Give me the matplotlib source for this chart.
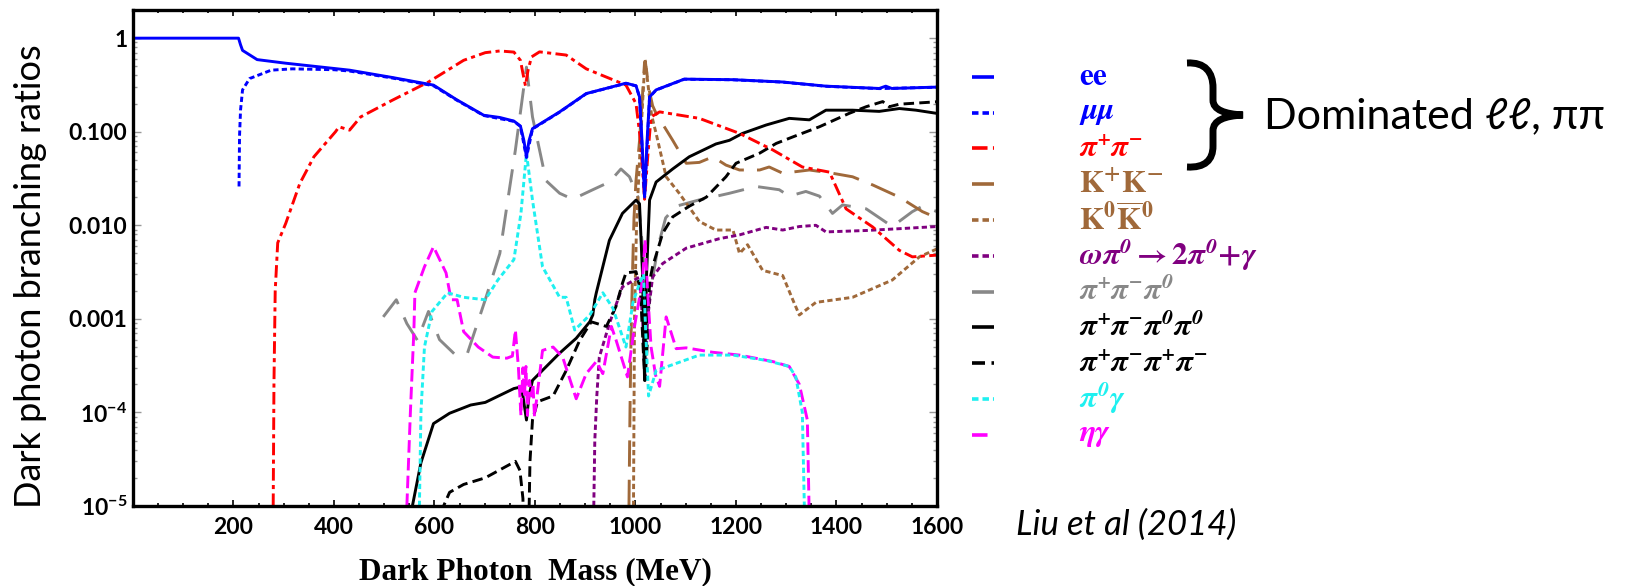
import matplotlib
matplotlib.use("Agg")
import matplotlib.pyplot as plt
from matplotlib.lines import Line2D
from matplotlib.path import Path
from matplotlib.patches import PathPatch
from matplotlib.ticker import FixedLocator, FixedFormatter, LogLocator, NullFormatter, MultipleLocator

plt.rcParams['mathtext.fontset'] = 'custom'
plt.rcParams['mathtext.rm'] = 'Lato:bold'
plt.rcParams['mathtext.bf'] = 'Lato:bold'
plt.rcParams['mathtext.it'] = 'Lato:bold:italic'

# ---------------- data (mass in MeV, branching ratio) ----------------
ee_m = [0, 210, 214, 218, 247, 304, 431, 516, 598, 644, 698, 730, 758, 771, 778, 783, 788, 795, 849, 902,
        981, 1001, 1008, 1013, 1018, 1023, 1028, 1041, 1097, 1194, 1293, 1379, 1485, 1498, 1510, 1600]
ee_br = [1.0, 1.0, 0.85, 0.74, 0.59, 0.54, 0.455, 0.38, 0.315, 0.22, 0.15, 0.142, 0.13, 0.115, 0.08, 0.054,
         0.08, 0.108, 0.163, 0.256, 0.33, 0.31, 0.236, 0.08, 0.02, 0.08, 0.236, 0.28, 0.365, 0.36, 0.34,
         0.307, 0.29, 0.307, 0.29, 0.30]

mumu_m = [211, 212, 214, 218, 232, 275, 317, 400, 431, 516, 598, 644, 698, 758, 771, 783, 795, 849, 902,
          981, 1001, 1008, 1018, 1028, 1041, 1097, 1194, 1293, 1379, 1485, 1600]
mumu_br = [0.026, 0.09, 0.17, 0.28, 0.37, 0.455, 0.47, 0.46, 0.445, 0.375, 0.31, 0.218, 0.149, 0.129, 0.114,
           0.053, 0.107, 0.162, 0.255, 0.329, 0.309, 0.235, 0.02, 0.235, 0.279, 0.364, 0.359, 0.339, 0.306,
           0.289, 0.299]

pipi_m = [279, 280.5, 283, 288, 304, 332, 360, 403, 410, 431, 453, 516, 588, 658, 701, 730, 758, 771, 776,
          781, 786, 793, 809, 862, 902, 981, 1001, 1010, 1018, 1025, 1031, 1048, 1127, 1207, 1273, 1332, 1386,
          1419, 1472, 1525, 1551, 1600]
pipi_br = [1e-5, 2e-4, 0.002, 0.0065, 0.0105, 0.028, 0.054, 0.10, 0.113, 0.104, 0.144, 0.217, 0.34, 0.58,
           0.70, 0.73, 0.71, 0.58, 0.42, 0.31, 0.45, 0.63, 0.714, 0.66, 0.47, 0.315, 0.20, 0.08, 0.019, 0.06,
           0.144, 0.163, 0.139, 0.096, 0.064, 0.042, 0.037, 0.015, 0.0096, 0.0054, 0.0046, 0.0048]

kk_m = [987, 989, 991, 994, 997, 1001, 1008, 1014, 1018, 1021, 1026, 1034, 1041, 1074, 1101, 1127, 1154,
        1180, 1207, 1247, 1266, 1293, 1346, 1392, 1432, 1472, 1525, 1571, 1600]
kk_br = [1e-5, 1e-4, 6e-4, 0.003, 0.012, 0.03, 0.08, 0.25, 0.55, 0.5, 0.3, 0.19, 0.157, 0.081, 0.046, 0.047,
         0.054, 0.044, 0.039, 0.039, 0.042, 0.036, 0.039, 0.036, 0.033, 0.027, 0.020, 0.014, 0.012]

k0k0_m = [996, 998, 1002, 1008, 1014, 1019, 1024, 1032, 1041, 1061, 1087, 1127, 1160, 1194, 1207, 1223, 1253,
          1293, 1313, 1326, 1359, 1432, 1511, 1518, 1565, 1600]
k0k0_br = [1e-5, 1e-3, 0.01, 0.05, 0.2, 0.6, 0.35, 0.15, 0.096, 0.033, 0.022, 0.011, 0.0089, 0.0089, 0.005,
           0.0062, 0.0033, 0.0029, 0.0016, 0.0011, 0.0015, 0.0017, 0.0026, 0.0028, 0.0046, 0.0056]

ompi_m = [917, 919, 923, 928, 948, 974, 1008, 1014, 1019, 1024, 1034, 1054, 1101, 1167, 1207, 1260, 1293,
          1326, 1359, 1379, 1459, 1525, 1600]
ompi_br = [1e-5, 5e-5, 1.5e-4, 3.9e-4, 8.9e-4, 0.0022, 0.0028, 0.001, 2.2e-4, 0.001, 0.0028, 0.0039, 0.0057,
           0.0072, 0.0079, 0.0095, 0.0089, 0.0097, 0.010, 0.0085, 0.0088, 0.0092, 0.0097]

p3_m = [498, 524, 545, 566, 588, 610, 640, 665, 701, 730, 744, 761, 776, 783, 795, 809, 822, 849, 875, 915,
        948, 971, 988, 1005, 1015, 1022, 1030, 1045, 1060, 1081, 1127, 1153, 1187, 1240, 1286, 1306, 1339,
        1366, 1392, 1412, 1459, 1511, 1551, 1571, 1600]
p3_br = [0.00105, 0.0016, 8.9e-4, 5.9e-4, 0.0012, 6e-4, 4.2e-4, 4.2e-4, 0.0016, 0.005, 0.016, 0.064, 0.256,
         0.49, 0.144, 0.064, 0.030, 0.022, 0.019, 0.024, 0.029, 0.040, 0.033, 0.02, 0.005, 0.001, 0.002,
         0.006, 0.012, 0.016, 0.0187, 0.02, 0.022, 0.026, 0.024, 0.0205, 0.023, 0.0205, 0.0134, 0.0165,
         0.015, 0.0097, 0.014, 0.016, 0.014]

p4n_m = [556, 573, 598, 630, 672, 701, 758, 768, 776, 783, 788, 795, 849, 882, 909, 915, 919, 922, 948, 974,
         1001, 1008, 1014, 1018, 1022, 1028, 1041, 1074, 1107, 1160, 1187, 1213, 1260, 1306, 1346, 1379,
         1432, 1485, 1525, 1558, 1600]
p4n_br = [1e-5, 2.9e-5, 7.6e-5, 9.8e-5, 1.2e-4, 1.28e-4, 1.8e-4, 1.85e-4, 1.5e-4, 8.3e-5, 1.5e-4, 2.2e-4,
          4.3e-4, 6.2e-4, 9.3e-4, 1.1e-3, 0.0016, 0.0019, 0.0069, 0.0134, 0.0186, 0.017, 0.003, 2.2e-4, 0.003,
          0.0186, 0.029, 0.040, 0.054, 0.074, 0.081, 0.096, 0.118, 0.139, 0.134, 0.17, 0.17, 0.165, 0.177,
          0.17, 0.157]

p4c_m = [600, 630, 658, 701, 761, 770, 776, 781, 785, 790, 795, 805, 836, 862, 889, 912, 942, 961, 974, 981,
         1001, 1010, 1016, 1019, 1023, 1028, 1034, 1054, 1074, 1107, 1141, 1180, 1200, 1247, 1280, 1313, 1366,
         1425, 1459, 1492, 1505, 1525, 1600]
p4c_br = [6e-6, 1.4e-5, 1.7e-5, 2.0e-5, 3.0e-5, 2.4e-5, 1.2e-5, 1e-7, 1e-6, 3e-5, 8.3e-5, 1.3e-4, 1.5e-4,
          2.8e-4, 5.9e-4, 9.3e-4, 8.3e-4, 0.00135, 0.0024, 0.0031, 0.0032, 0.002, 4e-4, 2.2e-4, 5e-4, 0.0025,
          0.0036, 0.0082, 0.0123, 0.016, 0.020, 0.033, 0.046, 0.059, 0.075, 0.088, 0.113, 0.157, 0.185, 0.21,
          0.185, 0.197, 0.209]

pi0g_m = [570, 573, 580, 595, 626, 658, 701, 726, 758, 772, 783, 795, 815, 849, 862, 879, 909, 935, 955, 981,
          995, 1008, 1016, 1020, 1026, 1041, 1078, 1127, 1194, 1260, 1306, 1319, 1332, 1336, 1340]
pi0g_br = [1e-5, 1e-4, 5e-4, 0.0012, 0.0019, 0.0017, 0.0016, 0.0026, 0.0043, 0.0134, 0.059, 0.0186, 0.0036,
           0.0017, 0.0017, 7.6e-4, 0.0011, 0.0019, 0.0013, 5e-4, 0.0015, 0.0024, 0.003, 0.0008, 1.5e-4, 2.8e-4,
           3.3e-4, 4.1e-4, 4.1e-4, 3.6e-4, 3.1e-4, 2.4e-4, 1e-4, 1e-5, 1e-6]

etag_m = [545, 552, 559, 561, 580, 598, 623, 633, 645, 658, 687, 716, 744, 755, 761, 767, 772, 776, 779, 782,
          785, 789, 793, 796, 799, 815, 836, 855, 882, 902, 922, 935, 952, 961, 984, 998, 1014, 1019, 1024,
          1031, 1040, 1048, 1061, 1081, 1101, 1153, 1207, 1273, 1306, 1326, 1342, 1349]
etag_br = [1e-5, 1e-4, 7.6e-4, 0.0019, 0.0036, 0.0059, 0.0031, 0.0016, 0.0016, 7.3e-4, 5e-4, 3.9e-4, 3.8e-4,
           4e-4, 7.6e-4, 3e-4, 9.3e-5, 3e-4, 1.5e-4, 3.1e-4, 9.3e-5, 2.2e-4, 1.5e-4, 2e-4, 9e-5, 4.6e-4, 5e-4,
           3.9e-4, 1.4e-4, 2.6e-4, 3.5e-4, 2.6e-4, 8.3e-4, 6e-4, 2.4e-4, 8.3e-4, 0.0026, 0.007, 0.002, 5e-4,
           2.5e-4, 1.9e-4, 0.00105, 4.8e-4, 4.9e-4, 4.4e-4, 4.1e-4, 3.5e-4, 3.1e-4, 2.0e-4, 8.3e-5, 1e-6]

x_ticks = [200, 400, 600, 800, 1000, 1200, 1400, 1600]
x_ticklabels = ['200', '400', '600', '800', '1000', '1200', '1400', '1600']
y_ticks = [1e-5, 1e-4, 1e-3, 1e-2, 1e-1, 1]
y_ticklabels = [r'$10^{-5}$', r'$10^{-4}$', '0.001', '0.010', '0.100', '1']

labels = [r'$\mathbf{ee}$', r'$\mathbfit{\mu\mu}$', r'$\mathbfit{\pi^{+}\pi^{-}}$', r'$\mathbf{K^{+}K^{-}}$',
          r'$\mathbf{K^{0}\overline{K}^{0}}$',
          r'$\mathbfit{\omega\pi^{0}}\mathbf{\rightarrow 2}\mathbfit{\pi^{0}}\mathbf{+}\mathbfit{\gamma}$',
          r'$\mathbfit{\pi^{+}\pi^{-}\pi^{0}}$', r'$\mathbfit{\pi^{+}\pi^{-}\pi^{0}\pi^{0}}$',
          r'$\mathbfit{\pi^{+}\pi^{-}\pi^{+}\pi^{-}}$', r'$\mathbfit{\pi^{0}\gamma}$', r'$\mathbfit{\eta\gamma}$']

# ---------------- styles ----------------
BLUE, RED, BROWN, PURPLE, GRAY, BLACK, CYAN, MAG = ('#0000FF', '#FF0000', '#A0693A', '#800080',
                                                    '#888888', '#000000', '#1FF0F0', '#FF00FF')
DOT = (0, (1.8, 1.1))
series = [
    (ee_m, ee_br, BLUE, '-'),
    (mumu_m, mumu_br, BLUE, DOT),
    (pipi_m, pipi_br, RED, (0, (4.3, 1.5, 1.4, 1.5))),
    (kk_m, kk_br, BROWN, (0, (9, 4.5))),
    (k0k0_m, k0k0_br, BROWN, DOT),
    (ompi_m, ompi_br, PURPLE, DOT),
    (p3_m, p3_br, GRAY, (0, (9, 5))),
    (p4n_m, p4n_br, BLACK, '-'),
    (p4c_m, p4c_br, BLACK, (0, (3.6, 1.8))),
    (pi0g_m, pi0g_br, CYAN, DOT),
    (etag_m, etag_br, MAG, (0, (4.3, 1.8))),
]

W, H = 1631, 586
fig = plt.figure(figsize=(W / 100, H / 100), dpi=100)
ax = fig.add_axes([133 / W, (H - 506) / H, (937 - 133) / W, (506 - 10) / H])

order = [6, 3, 4, 5, 8, 7, 10, 9, 2, 1, 0]
for i in order:
    m, br, c, ls = series[i]
    ax.plot(m, br, color=c, linestyle=ls, lw=2.1, solid_capstyle='butt', dash_capstyle='butt')

ax.set_yscale('log')
ax.set_xlim(0, 1600)
ax.set_ylim(1e-5, 2.0)

ax.xaxis.set_major_locator(FixedLocator(x_ticks))
ax.xaxis.set_major_formatter(FixedFormatter(x_ticklabels))
ax.xaxis.set_minor_locator(MultipleLocator(50))
ax.yaxis.set_major_locator(FixedLocator(y_ticks))
ax.yaxis.set_major_formatter(FixedFormatter(y_ticklabels))
ax.yaxis.set_minor_locator(LogLocator(base=10, subs=range(2, 10)))
ax.yaxis.set_minor_formatter(NullFormatter())

for s in ax.spines.values():
    s.set_linewidth(2.4)
ax.tick_params(axis='x', which='both', direction='in', top=True, bottom=True, color='black', width=1.2)
ax.tick_params(axis='x', which='major', length=4, pad=8)
ax.tick_params(axis='x', which='minor', length=2.5)
ax.tick_params(axis='y', which='both', direction='in', left=True, right=True, color='#999999', width=1.0)
ax.tick_params(axis='y', which='major', length=6, pad=4)
ax.tick_params(axis='y', which='minor', length=3)
for lab in ax.get_xticklabels() + ax.get_yticklabels():
    lab.set_fontfamily('Lato')
    lab.set_fontweight('bold')
    lab.set_fontsize(16.5)

fig.text(31 / W, 1 - 276 / H, 'Dark photon branching ratios', rotation=90, ha='center', va='center',
         family='Lato', fontsize=26)
fig.text(535 / W, 1 - 572 / H, 'Dark Photon  Mass (MeV)', ha='center', va='center',
         family='Liberation Serif', fontweight='bold', fontsize=22.5)

# legend
legend_colors = [BLUE, BLUE, RED, BROWN, BROWN, PURPLE, GRAY, BLACK, BLACK, CYAN, MAG]
for k, (lab, c) in enumerate(zip(labels, legend_colors)):
    yy = 76.7 + 35.8 * k
    ls = series[k][3]
    fig.add_artist(Line2D([972 / W, 994 / W], [1 - yy / H, 1 - yy / H], color=c, linestyle=ls, lw=2.6,
                          transform=fig.transFigure, solid_capstyle='butt', dash_capstyle='butt'))
    fig.text(1079 / W, 1 - yy / H, lab, ha='left', va='center', color=c, fontsize=22.5, math_fontfamily='stix')

# curly brace
pts = [(1187, 63), (1205, 62), (1213, 72), (1213, 88), (1213, 100), (1213, 110), (1225, 114), (1243, 115),
       (1225, 116), (1213, 120), (1213, 131), (1213, 146), (1213, 160), (1205, 168), (1187, 167)]
codes = [Path.MOVETO, Path.CURVE4, Path.CURVE4, Path.CURVE4, Path.LINETO, Path.CURVE4, Path.CURVE4,
         Path.CURVE4, Path.CURVE4, Path.CURVE4, Path.CURVE4, Path.LINETO, Path.CURVE4, Path.CURVE4, Path.CURVE4]
brace = Path([(x / W, 1 - y / H) for x, y in pts], codes)
fig.add_artist(PathPatch(brace, transform=fig.transFigure, fill=False, lw=5, edgecolor='black',
                         capstyle='butt'))

fig.text(1264 / W, 1 - 116 / H, 'Dominated ℓℓ, ππ', ha='left', va='center', fontsize=31,
         family=['Lato', 'DejaVu Sans'])
fig.text(1126 / W, 1 - 525 / H, 'Liu et al (2014)', ha='center', va='center', fontsize=25,
         family='Lato', style='italic')

fig.savefig('out.png', dpi=100)
